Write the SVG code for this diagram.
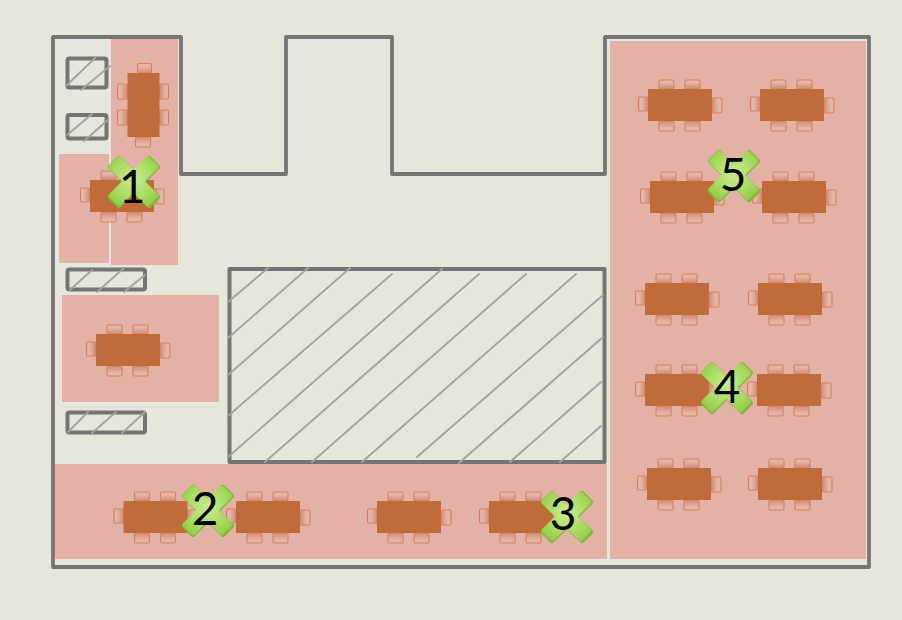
<svg xmlns="http://www.w3.org/2000/svg" width="902" height="620" viewBox="0 0 902 620">
<style>
.bg{fill:#e6e6dd}
.zone{fill:#e4b1a6}
.wall{fill:none;stroke:#757575;stroke-width:3.8;stroke-linejoin:round;stroke-linecap:round}
.room{fill:none;stroke:#747474;stroke-width:4;stroke-linejoin:round}
.thin{fill:none;stroke:#a3a3a0;stroke-width:1.9;stroke-linecap:round}
.table{fill:#c06c3a}
.c{stroke:#d8815c;stroke-width:1.1}
.mark{font-family:Lato,"Open Sans",sans-serif;font-size:46px;fill:#000;text-anchor:middle}
.xb{fill:#7fb93a}
.xt{fill:url(#xFill)}
</style>
<defs>
<linearGradient id="cT" x1="0" y1="0" x2="0" y2="1"><stop offset="0" stop-color="#e6b5a9"/><stop offset="0.3" stop-color="#e6b5a9"/><stop offset="1" stop-color="#d08c74"/></linearGradient>
<linearGradient id="cB" x1="0" y1="1" x2="0" y2="0"><stop offset="0" stop-color="#e6b5a9"/><stop offset="0.3" stop-color="#e6b5a9"/><stop offset="1" stop-color="#d08c74"/></linearGradient>
<linearGradient id="cL" x1="0" y1="0" x2="1" y2="0"><stop offset="0" stop-color="#e6b5a9"/><stop offset="0.35" stop-color="#e6b5a9"/><stop offset="1" stop-color="#d08c74"/></linearGradient>
<linearGradient id="cR" x1="1" y1="0" x2="0" y2="0"><stop offset="0" stop-color="#e6b5a9"/><stop offset="0.35" stop-color="#e6b5a9"/><stop offset="1" stop-color="#d08c74"/></linearGradient>
<radialGradient id="xFill" cx="0.5" cy="0.45" r="0.62"><stop offset="0" stop-color="#cbec94"/><stop offset="0.65" stop-color="#a8db60"/><stop offset="1" stop-color="#93cc46"/></radialGradient>
<g id="tbl">
<rect class="c" fill="url(#cT)" x="11" y="-9" width="15" height="9" rx="1.5"/>
<rect class="c" fill="url(#cT)" x="37" y="-9" width="15" height="9" rx="1.5"/>
<rect class="c" fill="url(#cB)" x="11" y="32" width="15" height="10" rx="1.5"/>
<rect class="c" fill="url(#cB)" x="37" y="32" width="15" height="10" rx="1.5"/>
<rect class="c" fill="url(#cL)" x="-9.500" y="8" width="9.500" height="14" rx="1.5"/>
<rect class="c" fill="url(#cR)" x="64" y="9" width="10" height="15" rx="1.5"/>
<rect class="table" width="64" height="32"/>
</g>
<path id="xs" d="M-16.500-25.500Q-15-27-13.500-25.500L0-12L13.500-25.500Q15-27 16.500-25.500L25.500-16.500Q27-15 25.500-13.500L12 0L25.500 13.500Q27 15 25.500 16.500L16.500 25.500Q15 27 13.500 25.500L0 12L-13.500 25.500Q-15 27-16.500 25.500L-25.500 16.500Q-27 15-25.500 13.500L-12 0L-25.500-13.500Q-27-15-25.500-16.500Z"/>
<g id="xm"><use href="#xs" class="xb"/><use href="#xs" class="xt" transform="translate(-0.600 -0.800) scale(0.95)"/></g>
</defs>
<rect class="bg" width="902" height="620"/>
<g id="zones">
<rect class="zone" x="111" y="37" width="67" height="228"/>
<rect class="zone" x="59" y="154" width="50" height="109"/>
<rect class="zone" x="62" y="295" width="157" height="107"/>
<rect class="zone" x="55" y="464" width="552" height="95"/>
<rect class="zone" x="610" y="41" width="256" height="518"/>
</g>
<g id="walls">
<path class="wall" d="M53 37H181V174H286V37H392V174H605V37H869V567H53Z"/>
<rect class="room" x="229.500" y="269" width="375" height="193"/>
<rect class="room" x="67.500" y="58.500" width="39" height="29" rx="2"/>
<rect class="room" x="67.500" y="115" width="39" height="23.500" rx="2"/>
<rect class="room" x="67.500" y="269.500" width="77.500" height="20" rx="2"/>
<rect class="room" x="67.500" y="412.500" width="77.500" height="20" rx="2"/>
</g>
<g id="hatching">
<path class="thin" d="M228 302L268 268M228 338L308 268M228 375L350 268M228 416L392 274M228 457L442 269M265 462L479 274M312 462L526 274M362 462L576 274M417 457L603 295M459 463L603 337M510 462L601 382M560 462L601 426"/>
<path class="thin" d="M66 86L96 57M81 90L110 66M67 135L92 114M84 141L108 120M70 290L92 270M97 292L124 268M124 292L145 275M68 432L88 412M92 433L116 412M122 433L145 412"/>
</g>
<g id="tables">
<use href="#tbl" transform="translate(159.500 73) rotate(90)"/>
<use href="#tbl" x="90" y="180"/>
<use href="#tbl" x="96" y="334"/>
<use href="#tbl" x="123.500" y="501"/>
<use href="#tbl" x="236" y="501"/>
<use href="#tbl" x="377" y="501"/>
<use href="#tbl" x="489" y="501"/>
<use href="#tbl" x="648" y="89"/>
<use href="#tbl" x="760" y="89"/>
<use href="#tbl" x="650" y="181"/>
<use href="#tbl" x="762" y="181"/>
<use href="#tbl" x="645" y="283"/>
<use href="#tbl" x="758" y="283"/>
<use href="#tbl" x="645" y="374"/>
<use href="#tbl" x="757" y="374"/>
<use href="#tbl" x="647" y="468"/>
<use href="#tbl" x="758" y="468"/>
</g>
<g id="marker-1"><use href="#xm" x="134" y="182"/><text class="mark" x="132" y="203">1</text></g>
<g id="marker-2"><use href="#xm" x="208" y="511"/><text class="mark" x="205" y="525">2</text></g>
<g id="marker-3"><use href="#xm" x="567" y="517"/><text class="mark" x="563" y="530">3</text></g>
<g id="marker-4"><use href="#xm" x="727" y="388"/><text class="mark" x="727" y="403">4</text></g>
<g id="marker-5"><use href="#xm" x="734" y="176"/><text class="mark" x="733" y="191">5</text></g>
</svg>
